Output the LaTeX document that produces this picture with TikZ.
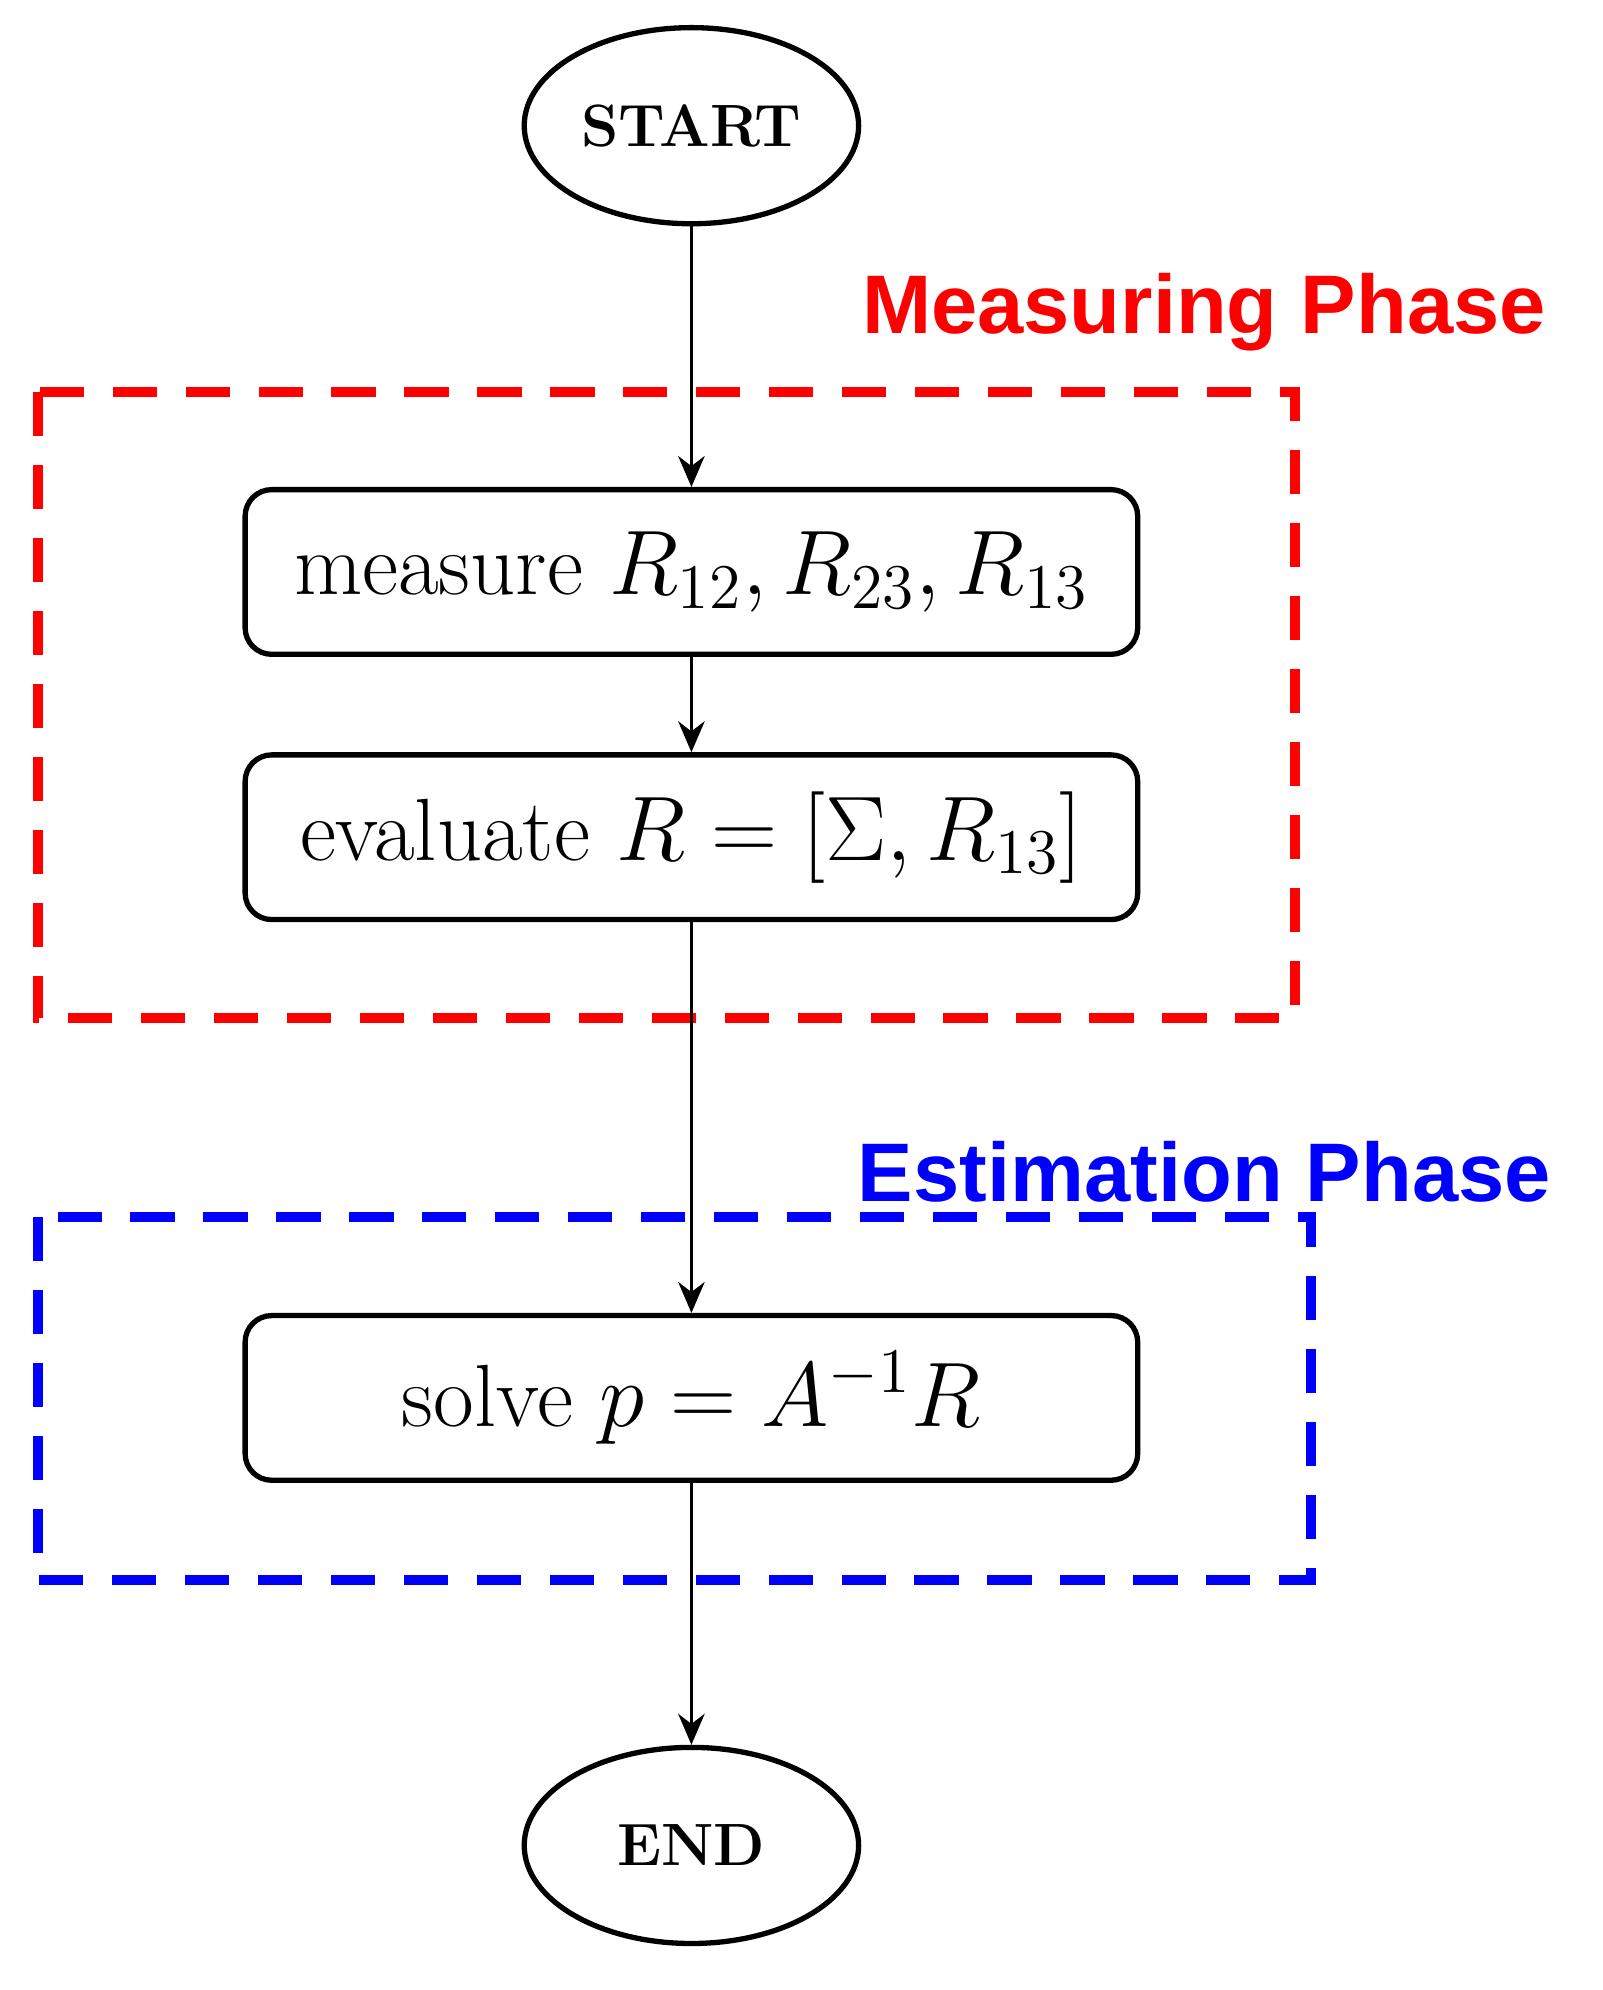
\documentclass[tikz,border=0pt]{standalone}
\usepackage{fontspec}
\usetikzlibrary{shapes.geometric,arrows.meta}
\newfontfamily\sansb{Liberation Sans}
\begin{document}
\begin{tikzpicture}[x=0.01cm,y=-0.01cm,
  term/.style={draw,ellipse,line width=1.2pt,minimum width=266*0.01cm,minimum height=156*0.01cm,inner sep=0pt,font=\fontsize{13.5}{16}\selectfont\bfseries},
  box/.style={draw,rounded corners=6pt,line width=1.2pt,minimum width=710*0.01cm,minimum height=131*0.01cm,font=\fontsize{20}{23}\selectfont},
  arr/.style={-{Stealth[length=7pt,width=6pt]},line width=0.6pt},
  phase/.style={line width=2.2pt,dash pattern=on 10pt off 6.5pt},
  plabel/.style={font=\sansb\fontsize{18.8}{22}\selectfont\bfseries,anchor=east}]
\useasboundingbox (0,0) rectangle (1275,1583);
\node[term] (start) at (550,100) {START};
\node[term] (end) at (550,1468) {END};
\node[box] (b1) at (550,455) {measure $R_{12},R_{23},R_{13}$};
\node[box] (b2) at (550,666) {evaluate $R=[\Sigma,R_{13}]$};
\node[box] (b3) at (550,1112) {solve $p=A^{-1}R$};
\draw[phase,red] (30,312) rectangle (1030,810);
\draw[phase,blue] (30,968) rectangle (1043,1257);
\node[plabel,red] (m) at (1242,248) {Measuring Phase};
\node[plabel,blue] (e) at (1246,932) {Estimation Phase};
\draw[arr] (start) -- (b1);
\draw[arr] (b1) -- (b2);
\draw[arr] (b2) -- (b3);
\draw[arr] (b3) -- (end);
\end{tikzpicture}
\end{document}
